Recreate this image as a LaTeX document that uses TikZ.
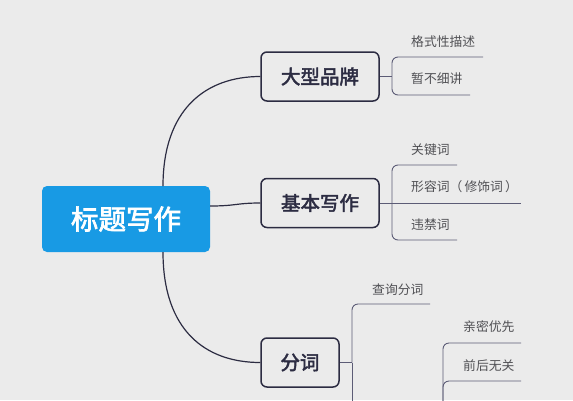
\documentclass[tikz,border=0pt]{standalone}
\usepackage{fontspec}
\setmainfont{Noto Sans CJK SC}[AutoFakeBold=2.5]
\definecolor{bg}{RGB}{235,235,235}
\definecolor{rootblue}{RGB}{24,154,228}
\definecolor{edgedark}{RGB}{44,44,66}
\definecolor{brk}{RGB}{92,92,118}
\definecolor{leaftext}{RGB}{80,80,84}
\begin{document}
\begin{tikzpicture}[x=1pt, y=-1pt,
    root/.style={rectangle, rounded corners=5pt, fill=rootblue, text=white, font=\fontsize{27.5}{30}\selectfont\bfseries, minimum width=168pt, minimum height=66pt, inner sep=0pt},
    sub/.style={rectangle, rounded corners=6pt, draw=edgedark, line width=1.5pt, fill=bg, text=edgedark, font=\fontsize{19.5}{22}\selectfont\bfseries, minimum height=49pt, inner sep=0pt},
    leaf/.style={anchor=west, text=leaftext, font=\fontsize{12.8}{14}\selectfont, inner sep=0pt},
    main/.style={draw=edgedark, line width=1.2pt},
    br/.style={draw=brk, line width=0.9pt, rounded corners=6pt}]
    \useasboundingbox (0,0) rectangle (573,400);
    \clip (0,0) rectangle (573,400);
    \fill[bg] (0,0) rectangle (573,400);

    \node[root] (r) at (126,219) {标题写作};
    \node[sub, minimum width=118pt] (b1) at (320,76.5) {大型品牌};
    \node[sub, minimum width=118pt] (b2) at (320,203) {基本写作};
    \node[sub, minimum width=78pt] (b3) at (300,362.5) {分词};

    \coordinate (rt) at (163,186);
    \coordinate (rb) at (163,252);
    \draw[main] (rt) .. controls (163,110) and (205,76.5) .. (b1.west);
    \draw[main] (r.east |- 0,206) .. controls (236,206) and (236,203) .. (b2.west);
    \draw[main] (rb) .. controls (163,330) and (205,362.5) .. (b3.west);

    % 大型品牌
    \node[leaf] (l11) at (411,42) {格式性描述};
    \node[leaf] (l12) at (411,79) {暂不细讲};
    \coordinate (j1) at (392,76.5);
    \coordinate (u11) at (483,57);
    \coordinate (u12) at (470,95);
    \draw[br] (b1.east) -- (j1);
    \draw[br] (j1) |- (u11);
    \draw[br] (j1) |- (u12);

    % 基本写作
    \node[leaf] (l21) at (411,150) {关键词};
    \node[leaf] (l22) at (411,187) {形容词（\,修饰词\,）};
    \node[leaf] (l23) at (411,225) {违禁词};
    \coordinate (j2) at (392,203);
    \coordinate (u21) at (457,165);
    \coordinate (u22) at (521,203);
    \coordinate (u23) at (457,240);
    \draw[br] (b2.east) -- (u22);
    \draw[br] (j2) |- (u21);
    \draw[br] (j2) |- (u23);

    % 分词
    \node[leaf] (l31) at (372,290) {查询分词};
    \node[leaf] (l41) at (463,327) {亲密优先};
    \node[leaf] (l42) at (463,366) {前后无关};
    \coordinate (j3) at (352,362.5);
    \coordinate (u31) at (430,304);
    \coordinate (d3) at (352,402);
    \coordinate (j4) at (443,420);
    \coordinate (u41) at (521,343);
    \coordinate (u42) at (521,381);
    \draw[br] (b3.east) -- (j3);
    \draw[br] (j3) |- (u31);
    \draw[br] (j3) -- (d3);
    \draw[br] (j4) |- (u41);
    \draw[br] (j4) |- (u42);
\end{tikzpicture}
\end{document}
